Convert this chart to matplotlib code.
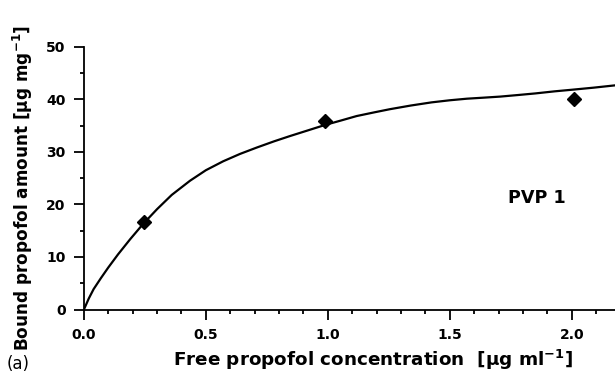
import matplotlib
matplotlib.use('Agg')
import matplotlib.pyplot as plt
from matplotlib.ticker import MultipleLocator

# Data
fit_conc = [0, 0.02, 0.04, 0.07, 0.10, 0.14, 0.19, 0.243, 0.30, 0.36, 0.435,
            0.50, 0.571, 0.64, 0.708, 0.78, 0.845, 0.92, 0.988, 1.05, 1.118,
            1.19, 1.254, 1.34, 1.425, 1.50, 1.57, 1.64, 1.707, 1.78, 1.85,
            1.93, 2.0, 2.09, 2.19]
fit_bound = [0, 2.1, 3.9, 6.0, 8.0, 10.5, 13.4, 16.3, 19.1, 21.8, 24.5,
             26.5, 28.2, 29.6, 30.8, 32.0, 33.0, 34.1, 35.1, 35.9, 36.8,
             37.5, 38.1, 38.8, 39.4, 39.8, 40.1, 40.3, 40.5, 40.8, 41.1,
             41.5, 41.8, 42.2, 42.7]
meas_conc = [0.245, 0.99, 2.01]
meas_bound = [16.7, 35.9, 40.0]

# Pre-plot settings
matplotlib.rc('font', family='DejaVu Sans', size=10)
matplotlib.rc('mathtext', fontset='custom', rm='DejaVu Sans',
              bf='DejaVu Sans:bold')

fig = plt.figure(figsize=(6.15, 3.73), dpi=100)
ax = fig.add_axes([0.1364, 0.170, 0.8636, 0.705])

ax.plot(fit_conc, fit_bound, color='black', linewidth=1.6, zorder=2)
ax.plot(meas_conc, meas_bound, linestyle='none', marker='D', markersize=7.5,
        color='black', zorder=3)

ax.set(xlim=(0, 2.177), ylim=(0, 50))
ax.xaxis.set_major_locator(MultipleLocator(0.5))
ax.xaxis.set_minor_locator(MultipleLocator(0.1))
ax.yaxis.set_major_locator(MultipleLocator(10))
ax.yaxis.set_minor_locator(MultipleLocator(5))
ax.xaxis.set_major_formatter(lambda v, p: f'{v:.1f}')

for side in ['top', 'right']:
    ax.spines[side].set_visible(False)
for side in ['left', 'bottom']:
    ax.spines[side].set_linewidth(1.3)

ax.tick_params(axis='x', which='major', direction='out', length=7.2, width=1.3, pad=6)
ax.tick_params(axis='x', which='minor', direction='out', length=3.2, width=1.3)
ax.tick_params(axis='y', which='major', direction='out', length=7.2, width=1.3, pad=6)
ax.tick_params(axis='y', which='minor', direction='out', length=3.2, width=1.3)
for lbl in ax.get_xticklabels() + ax.get_yticklabels():
    lbl.set_fontweight('bold')
    lbl.set_fontsize(10)

# Axis labels placed in figure coordinates
fig.text(373 / 615, 7 / 373,
         r'Free propofol concentration  [µg ml$^{\mathbf{-1}}$]',
         fontsize=13.2, fontweight='bold', ha='center', va='baseline')
fig.text(0.018, 1 - 187.5 / 373,
         r'Bound propofol amount [µg mg$^{\mathbf{-1}}$]',
         fontsize=12.2, fontweight='bold', rotation=90,
         ha='left', va='center')

ax.text(1.857, 21.3, 'PVP 1', fontsize=12.7, fontweight='bold',
        ha='center', va='center')
fig.text(0.010, 0.0, '(a)', fontsize=12, ha='left', va='bottom')

fig.savefig('out.png', dpi=100)
